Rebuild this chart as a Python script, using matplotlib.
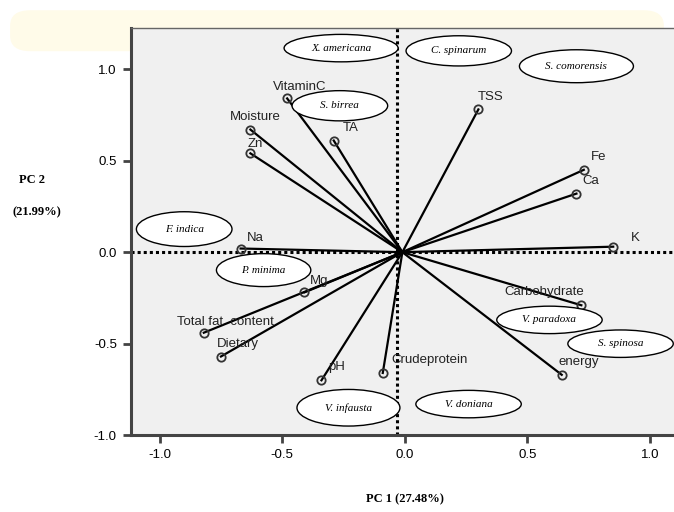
import numpy as np
import matplotlib.pyplot as plt
from matplotlib.patches import Ellipse, FancyBboxPatch

# loadings on PC1 / PC2
variables = ['VitaminC', 'Moisture', 'Zn', 'TA', 'TSS', 'Fe', 'Ca', 'K', 'Na', 'Mg',
             'Total fat  content', 'Dietary', 'pH', 'Crudeprotein', 'Carbohydrate', 'energy']
pc1 = [-0.48, -0.63, -0.63, -0.29, 0.30, 0.73, 0.70, 0.85, -0.67, -0.41,
       -0.82, -0.75, -0.34, -0.09, 0.72, 0.64]
pc2 = [0.84, 0.67, 0.54, 0.61, 0.78, 0.45, 0.32, 0.03, 0.02, -0.22,
       -0.44, -0.57, -0.70, -0.66, -0.29, -0.67]

# species names placed in ellipses
species = ['X. americana', 'C. spinarum', 'S. comorensis', 'S. birrea', 'F. indica',
           'P. minima', 'V. paradoxa', 'S. spinosa', 'V. infausta', 'V. doniana']
sp_x = [-0.26, 0.22, 0.70, -0.265, -0.90, -0.576, 0.59, 0.88, -0.23, 0.26]
sp_y = [1.115, 1.10, 1.016, 0.80, 0.126, -0.098, -0.37, -0.50, -0.85, -0.83]
sp_w = [0.465, 0.43, 0.465, 0.39, 0.39, 0.385, 0.43, 0.43, 0.42, 0.43]
sp_h = [0.15, 0.165, 0.18, 0.165, 0.19, 0.18, 0.15, 0.15, 0.20, 0.15]

ticks = [-1.0, -0.5, 0.0, 0.5, 1.0]

fig = plt.figure(figsize=(6.74, 5.12), dpi=100)
fig.patches.append(FancyBboxPatch((0.015, 0.90), 0.97, 0.08, boxstyle='round,pad=0,rounding_size=0.03',
                                  transform=fig.transFigure, facecolor='#fffbe9', edgecolor='none', zorder=-1))
ax = fig.add_axes([0.194, 0.150, 0.806, 0.795])
ax.set_zorder(2)
ax.set_facecolor('#f0f0f0')

ax.axhline(0, color='black', ls=(0, (1, 1)), lw=2.2, zorder=1)
ax.axvline(-0.03, color='black', ls=(0, (1, 1)), lw=2.2, zorder=1)

# offsets for label text (data units)
lab_dx = [0.05, 0.02, 0.02, 0.07, 0.05, 0.06, 0.06, 0.09, 0.06, 0.06,
          0.09, 0.07, 0.06, 0.19, -0.15, 0.07]
lab_dy = [0.06, 0.07, 0.05, 0.07, 0.07, 0.07, 0.07, 0.05, 0.06, 0.06,
          0.06, 0.07, 0.07, 0.07, 0.07, 0.07]
for v, x, y, dx, dy in zip(variables, pc1, pc2, lab_dx, lab_dy):
    ax.plot([-0.01, x], [0.0, y], color='black', lw=1.6, zorder=2)
    ax.plot(x, y, 'o', mfc='none', mec='#333333', ms=6, mew=1.3, zorder=3)
    ax.text(x + dx, y + dy, v, fontsize=9.5, family='Liberation Sans', color='#222222',
            ha='center', va='center', zorder=4)

for s, x, y, w, h in zip(species, sp_x, sp_y, sp_w, sp_h):
    ax.add_patch(Ellipse((x, y), w, h, facecolor='white', edgecolor='black', lw=1.0, zorder=5))
    ax.text(x, y, s, fontsize=8, family='Liberation Serif', style='italic',
            ha='center', va='center', zorder=6)

ax.set_xlim(-1.118, 1.098)
ax.set_ylim(-1.0, 1.224)
ax.set_xticks(ticks)
ax.set_yticks(ticks)
ax.set_xticklabels(['%.1f' % t for t in ticks], family='Liberation Sans', fontsize=9.5)
ax.set_yticklabels(['%.1f' % t for t in ticks], family='Liberation Sans', fontsize=9.5)
ax.tick_params(direction='out', length=6, width=2, color='#444444', pad=4)
for side in ['left', 'bottom']:
    ax.spines[side].set_linewidth(2.2)
    ax.spines[side].set_color('#444444')
ax.spines['top'].set_linewidth(1.0)
ax.spines['top'].set_color('#666666')
ax.spines['right'].set_visible(False)

fig.text(0.601, 0.013, 'PC 1 (27.48%)', family='Liberation Serif', fontweight='bold', fontsize=9,
         ha='center', va='bottom')
fig.text(0.048, 0.648, 'PC 2', family='Liberation Serif', fontweight='bold', fontsize=9,
         ha='center', va='center')
fig.text(0.055, 0.586, '(21.99%)', family='Liberation Serif', fontweight='bold', fontsize=9,
         ha='center', va='center')

fig.savefig('out.png', dpi=100)
